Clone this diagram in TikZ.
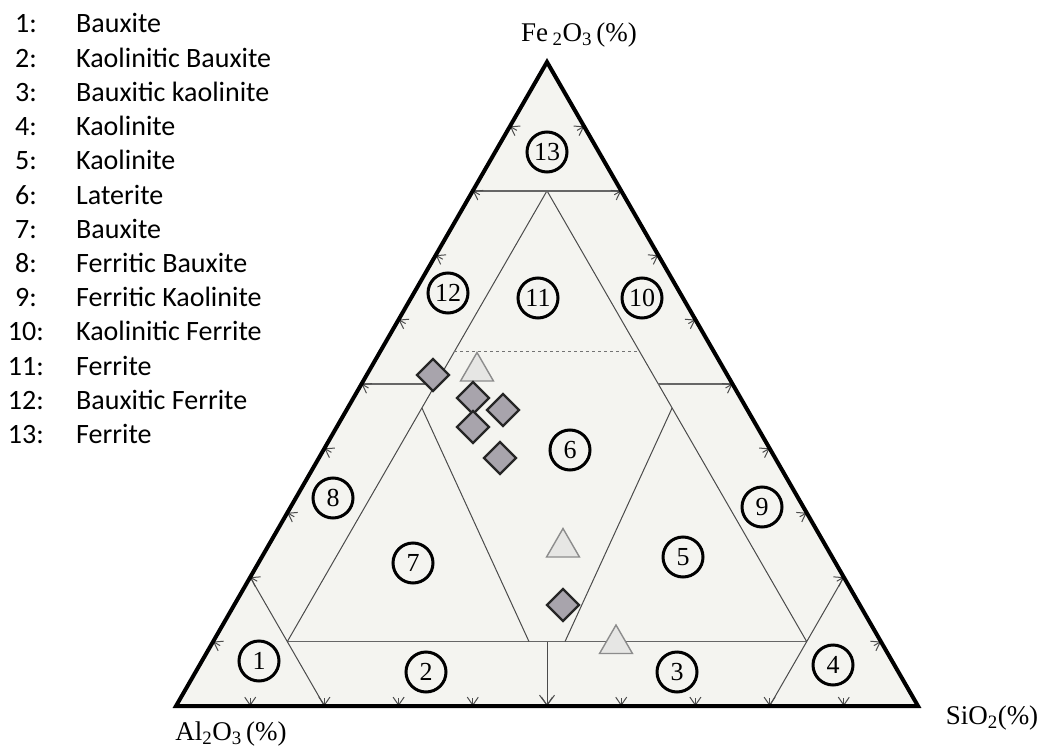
\documentclass[tikz,border=0pt]{standalone}
\usepackage{fontspec}
\setmainfont{Liberation Serif}
\newfontfamily\legendfont{Carlito}
\usetikzlibrary{arrows.meta,shapes.geometric}
\definecolor{panel}{RGB}{244,244,240}
\definecolor{gridline}{RGB}{75,75,75}
\definecolor{diafill}{RGB}{168,164,172}
\definecolor{trifill}{RGB}{230,230,228}
\tikzset{
  zone/.style={circle,draw,line width=3pt,minimum size=40pt,inner sep=0pt,
    font=\fontsize{26}{26}\selectfont},
  sample/.style={diamond,draw=black!85,fill=diafill,line width=2.4pt,
    minimum size=33pt,inner sep=0pt},
  check/.style={regular polygon,regular polygon sides=3,draw=black!45,fill=trifill,
    line width=1.4pt,minimum size=38pt,inner sep=0pt},
  edgetick/.style={-{Straight Barb[length=8pt,width=11pt]},black!70,line width=1pt},
  legend/.style={inner sep=0pt,font=\legendfont\fontsize{28}{28}\selectfont},
  axislabel/.style={inner sep=0pt,font=\fontsize{27}{27}\selectfont}
}
\begin{document}
\begin{tikzpicture}[x=1pt,y=-1pt]
  \useasboundingbox (0,0) rectangle (1049,749);
  % corners of the diagram
  \coordinate (A) at (176,706);
  \coordinate (S) at (918,706);
  \coordinate (F) at (547,62);
  \fill[panel] (A) -- (S) -- (F) -- cycle;
  % field boundaries
  \coordinate (l2) at (250.2,577.2);
  \coordinate (b2) at (324.4,706);
  \coordinate (r2) at (843.8,577.2);
  \coordinate (b8) at (769.6,706);
  \coordinate (p1) at (287.3,641.6);
  \coordinate (p2) at (806.7,641.6);
  \coordinate (p3) at (547,190.8);
  \coordinate (pm) at (547,641.6);
  \coordinate (bm) at (547,706);
  \coordinate (l5) at (361.5,384);
  \coordinate (i5) at (435.7,384);
  \coordinate (j5) at (658.3,384);
  \coordinate (r5) at (732.5,384);
  \coordinate (l8) at (472.8,190.8);
  \coordinate (r8) at (621.2,190.8);
  \coordinate (d1) at (454.3,351.8);
  \coordinate (d2) at (639.8,351.8);
  \coordinate (q7) at (421.9,408);
  \coordinate (c7) at (529,641.6);
  \coordinate (q5) at (672.1,408);
  \coordinate (c5) at (565,641.6);
  \begin{scope}[gridline,line width=1pt]
    \draw (l2) -- (b2);
    \draw (r2) -- (b8);
    \draw[line width=1.6pt,black!60] (p1) -- (p2);
    \draw (p1) -- (p3);
    \draw (p2) -- (p3);
    \draw[line width=1.6pt,black!60] (l5) -- (i5);
    \draw[line width=1.6pt,black!60] (j5) -- (r5);
    \draw[line width=1.6pt,black!60] (l8) -- (r8);
    \draw[dashed,black!55,line width=1.2pt] (d1) -- (d2);
    \draw (q7) -- (c7);
    \draw (q5) -- (c5);
    \draw[-{Straight Barb[length=10pt,width=15pt]}] (pm) -- (bm);
  \end{scope}
  % scale ticks
  \foreach \k in {1,...,9}{
    \draw[edgetick] ({176+74.2*\k},698) -- ({176+74.2*\k},706);
    \draw[edgetick] ({183+37.1*\k},{710-64.4*\k}) -- ({176+37.1*\k},{706-64.4*\k});
    \draw[edgetick] ({911-37.1*\k},{710-64.4*\k}) -- ({918-37.1*\k},{706-64.4*\k});
  }
  \draw[line width=4pt,line join=miter] (A) -- (S) -- (F) -- cycle;
  % numbered fields
  \foreach \n/\x/\y in {1/259/661, 2/426/672, 3/677/672, 4/833/665, 5/683/557,
      6/570/450, 7/413/563, 8/333/498, 9/762/507, 10/642/298, 11/538/298,
      12/448/293, 13/547/152}
    \node[zone] (z\n) at (\x,\y) {\n};
  % samples
  \node[sample] (s1) at (433,375) {};
  \node[check] (t1) at (477,371.5) {};
  \node[sample] (s2) at (473,398) {};
  \node[sample] (s3) at (503,410) {};
  \node[sample] (s4) at (473,427) {};
  \node[sample] (s5) at (500,458) {};
  \node[check] (t2) at (563,547.5) {};
  \node[sample] (s6) at (563,605) {};
  \node[check] (t3) at (616,644) {};
  % axes
  \node[axislabel] (fe) at (579,35) {Fe\,\textsubscript{2}O\textsubscript{3}\,(\%)};
  \node[axislabel] (al) at (231,734) {Al\textsubscript{2}O\textsubscript{3}\,(\%)};
  \node[axislabel] (si) at (992,718) {SiO\textsubscript{2}(\%)};
  % legend
  \foreach \n/\txt in {1/Bauxite, 2/Kaolinitic Bauxite, 3/Bauxitic kaolinite,
      4/Kaolinite, 5/Kaolinite, 6/Laterite, 7/Bauxite, 8/Ferritic Bauxite,
      9/Ferritic Kaolinite, 10/Kaolinitic Ferrite, 11/Ferrite,
      12/Bauxitic Ferrite, 13/Ferrite}{
    \node[legend,anchor=base east] (num\n) at ({\n<10 ? 37 : 44},{33+34.2*(\n-1)}) {\n:};
    \node[legend,anchor=base west] (leg\n) at (76,{33+34.2*(\n-1)}) {\txt};
  }
\end{tikzpicture}
\end{document}
